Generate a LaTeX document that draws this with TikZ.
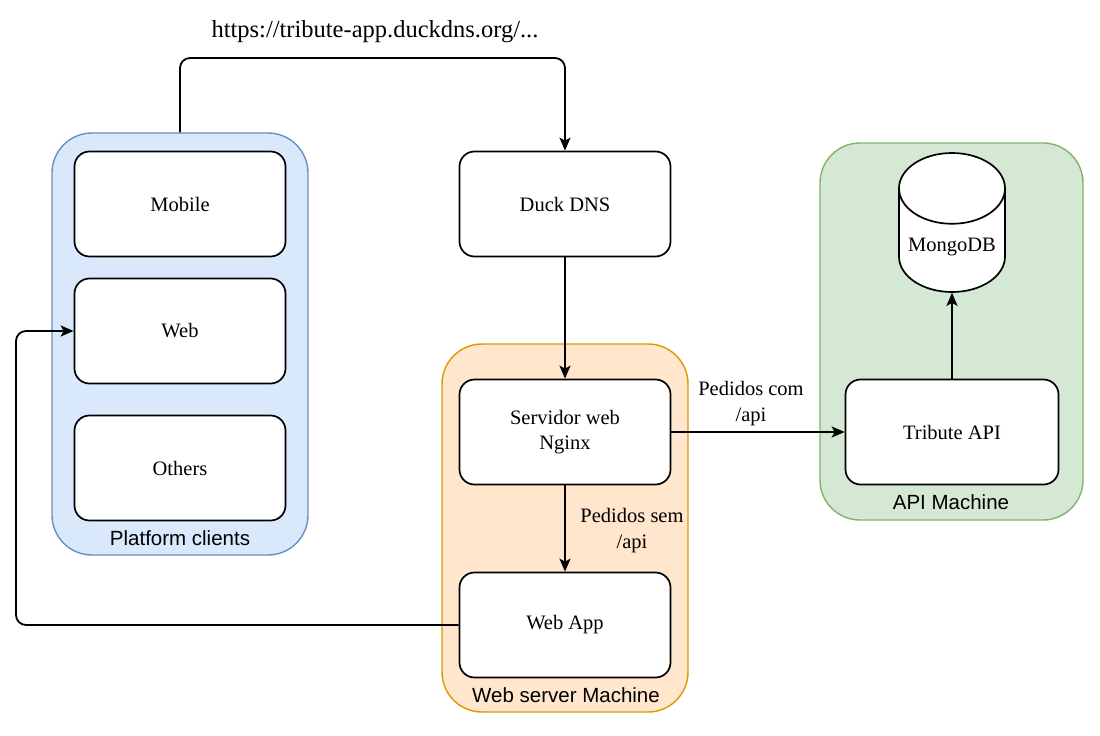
\documentclass[tikz,border=0pt]{standalone}
\usepackage{fontspec}
\setmainfont{Liberation Serif}
\newfontfamily\etiquetasans{Liberation Sans}
\usetikzlibrary{shapes.geometric,arrows.meta}

\definecolor{azulFondo}{HTML}{DAE8FC}
\definecolor{azulBorde}{HTML}{6C8EBF}
\definecolor{naranjaFondo}{HTML}{FFE6CC}
\definecolor{naranjaBorde}{HTML}{D79B00}
\definecolor{verdeFondo}{HTML}{D5E8D4}
\definecolor{verdeBorde}{HTML}{82B366}

\begin{document}
\begin{tikzpicture}[x=1pt,y=-1pt]
    \tikzset{Caja/.style = {shape=rectangle,draw,fill=white,line width=1.7pt,rounded corners=15pt,minimum width=211pt,minimum height=105pt,align=center,font=\fontsize{20.5}{25}\selectfont}}
    \tikzset{Contenedor/.style = {shape=rectangle,draw,line width=1.4pt,rounded corners=40pt}}
    \tikzset{Etiqueta/.style = {font=\etiquetasans\fontsize{20.5}{25}\selectfont}}
    \tikzset{Texto/.style = {align=center,font=\fontsize{20.5}{26}\selectfont}}
    \tikzset{BaseDatos/.style = {shape=cylinder,shape border rotate=90,draw,fill=white,line width=1.7pt,aspect=0.75,minimum width=106pt,minimum height=139pt,font=\fontsize{20.5}{25}\selectfont}}

    \tikzset{flecha/.style = {-{Stealth[length=13pt,width=11pt,inset=3pt]},line width=1.8pt,black,rounded corners=10pt}}

    \useasboundingbox (0,0) rectangle (1100,736);

    % Contenedores
    \node[Contenedor,fill=azulFondo,draw=azulBorde,minimum width=256pt,minimum height=422pt] (clientes) at (180,344) {};
    \node[Contenedor,fill=naranjaFondo,draw=naranjaBorde,minimum width=246pt,minimum height=368pt] (maquinaWeb) at (565,528) {};
    \node[Contenedor,fill=verdeFondo,draw=verdeBorde,minimum width=263pt,minimum height=377pt] (maquinaApi) at (951.5,331.5) {};

    \node[Etiqueta] (lblClientes) at (180,538) {Platform clients};
    \node[Etiqueta] (lblWeb) at (566,695) {Web server Machine};
    \node[Etiqueta] (lblApi) at (951,502) {API Machine};

    % Cajas
    \node[Caja] (mobile) at (180,204) {Mobile};
    \node[Caja] (web) at (180,331) {Web};
    \node[Caja] (others) at (180,468) {Others};

    \node[Caja] (duckDns) at (565,204) {Duck DNS};
    \node[Caja] (nginx) at (565,432) {Servidor web\\Nginx};
    \node[Caja] (webApp) at (565,625) {Web App};

    \node[Caja,minimum width=213pt] (tributeApi) at (952,432) {Tribute API};
    \node[BaseDatos,anchor=shape center] (mongo) at (952,222.5) {MongoDB};

    % Textos
    \node[Texto,font=\fontsize{24.5}{28}\selectfont] (url) at (375,32) {https://tribute-app.duckdns.org/...};
    \node[Texto] (lblCon) at (751,404) {Pedidos com\\/api};
    \node[Texto] (lblSin) at (632,531) {Pedidos sem\\/api};

    % Conexiones
    \draw [flecha] (clientes.north) -- (180,58) -| (duckDns.north);
    \draw [flecha] (duckDns) -- (nginx);
    \draw [flecha] (nginx) -- (tributeApi);
    \draw [flecha] (nginx) -- (webApp);
    \draw [flecha] (tributeApi) -- (mongo);
    \draw [flecha] (webApp.west) -- (16,625) |- (web.west);

\end{tikzpicture}
\end{document}
